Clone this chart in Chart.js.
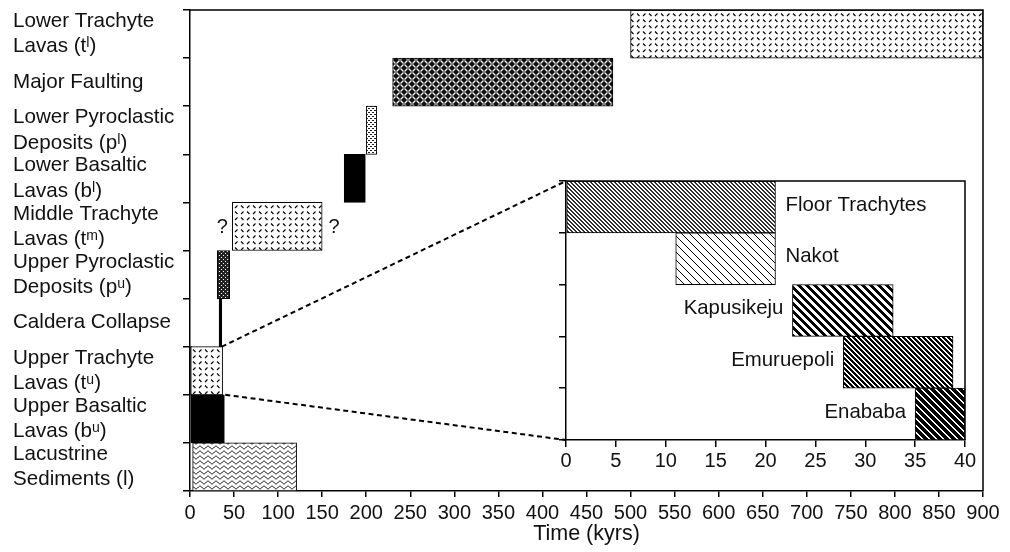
<!DOCTYPE html>
<html><head><meta charset="utf-8">
<script src="https://cdn.jsdelivr.net/npm/chart.js@4/dist/chart.umd.min.js"></script>
<style>
html,body{margin:0;padding:0;background:#fff;}
#wrap{position:relative;width:1010px;height:552px;}
.layer{position:absolute;left:0;top:0;width:1010px;height:552px;}
</style></head><body>
<div id="wrap">
<div class="layer"><canvas id="main"></canvas></div>
<div class="layer"><canvas id="inset"></canvas></div>
</div>
<script>
// ---------- DATA ----------
const categories = [
  ['Lower Trachyte', 'Lavas (tˡ)'],
  'Major Faulting',
  ['Lower Pyroclastic', 'Deposits (pˡ)'],
  ['Lower Basaltic', 'Lavas (bˡ)'],
  ['Middle Trachyte', 'Lavas (tᵐ)'],
  ['Upper Pyroclastic', 'Deposits (pᵘ)'],
  'Caldera Collapse',
  ['Upper Trachyte', 'Lavas (tᵘ)'],
  ['Upper Basaltic', 'Lavas (bᵘ)'],
  ['Lacustrine', 'Sediments (l)']
];
const startKyr = [500, 230, 200, 175, 48, 31, 33, 0, 0, 3];
const endKyr   = [900, 480, 212, 199, 150, 45, 36, 37, 39, 121];
const blackEdgeKyr = [null, null, null, null, null, null, null, [0, 2], null, null];
const uncertainRows = [4];   // rows with "?" on both ends

const insetCategories = ['Floor Trachytes', 'Nakot', 'Kapusikeju', 'Emuruepoli', 'Enababa'];
const insetStartKyr = [0, 11, 22.7, 27.8, 35];
const insetEndKyr   = [21, 21, 32.8, 38.8, 40];

// ---------- STYLES ----------
const mainPatternNames = ['trachyte','weave','stippleLight','solid','trachyte','stippleDark','solid','trachyte','solid','wave'];
const insetPatternNames = ['floor','nakot','kapu','emur','enababa'];
const insetLabelSide = ['right','right','left','left','left'];
const FONT = '"Liberation Sans", Arial, Helvetica, sans-serif';

Chart.defaults.font.family = FONT;
Chart.defaults.font.size = 20;
Chart.defaults.color = '#111';
Chart.defaults.animation = false;

function tile(w, h, fn) {
  const c = document.createElement('canvas'); c.width = w; c.height = h;
  const g = c.getContext('2d'); fn(g, w, h);
  return g.createPattern(c, 'repeat');
}
// crisp pixel "\" hatch: period p, horizontal stroke thickness t
function diag(p, t, fg, bg) {
  return tile(p, p, (g) => {
    g.fillStyle = bg; g.fillRect(0, 0, p, p);
    g.fillStyle = fg;
    for (let r = 0; r < p; r++) for (let k = 0; k < t; k++) g.fillRect((r + k) % p, r, 1, 1);
  });
}
const PAT = {
  solid: '#000',
  trachyte: tile(12, 12, (g) => {
    g.fillStyle = '#fff'; g.fillRect(0, 0, 12, 12);
    g.strokeStyle = '#000'; g.lineWidth = 1.1; g.beginPath();
    g.moveTo(1, 1.5); g.lineTo(3.5, 4);
    g.moveTo(7, 4); g.lineTo(9.5, 1.5);
    g.moveTo(1, 10); g.lineTo(3.5, 7.5);
    g.moveTo(7, 7.5); g.lineTo(9.5, 10);
    g.stroke();
  }),
  weave: tile(8, 8, (g) => {
    g.fillStyle = '#111'; g.fillRect(0, 0, 8, 8);
    g.strokeStyle = '#fff'; g.lineWidth = 1.2; g.beginPath();
    g.moveTo(0.5, 3.5); g.lineTo(3.5, 0.5);
    g.moveTo(4.5, 7.5); g.lineTo(7.5, 4.5);
    g.moveTo(4.5, 0.5); g.lineTo(7.5, 3.5);
    g.moveTo(0.5, 4.5); g.lineTo(3.5, 7.5);
    g.stroke();
  }),
  stippleLight: tile(4, 4, (g) => {
    g.fillStyle = '#fff'; g.fillRect(0, 0, 4, 4);
    g.fillStyle = '#222'; g.fillRect(0, 0, 2, 1); g.fillRect(2, 2, 2, 1);
  }),
  stippleDark: tile(4, 4, (g) => {
    g.fillStyle = '#222'; g.fillRect(0, 0, 4, 4);
    g.fillStyle = '#fff'; g.fillRect(1, 1, 1, 1); g.fillRect(3, 3, 1, 1);
  }),
  wave: tile(8, 5, (g) => {
    g.fillStyle = '#fff'; g.fillRect(0, 0, 8, 5);
    g.strokeStyle = '#000'; g.lineWidth = 1; g.beginPath();
    for (let i = 0; i <= 16; i++) {
      const xx = i / 2, yy = 2.5 - 1.4 * Math.cos(Math.PI * 2 * xx / 8);
      if (i === 0) g.moveTo(xx, yy); else g.lineTo(xx, yy);
    }
    g.stroke();
  }),
  floor: diag(4, 2, '#333', '#fff'),
  nakot: diag(8, 1, '#000', '#fff'),
  kapu: diag(8, 4, '#000', '#fff'),
  emur: diag(5, 3, '#000', '#fff'),
  enababa: diag(7, 2, '#fff', '#000')
};

// ---------- MAIN CHART ----------
const mainDecor = {
  id: 'mainDecor',
  afterDraw(chart) {
    const { ctx, chartArea: a, scales: { x, y } } = chart;
    ctx.save();
    ctx.strokeStyle = '#000'; ctx.lineWidth = 1.5;
    ctx.beginPath(); ctx.moveTo(a.left, a.top); ctx.lineTo(a.right, a.top); ctx.lineTo(a.right, a.bottom); ctx.stroke();
    ctx.fillStyle = '#111'; ctx.font = '20px ' + FONT;
    ctx.textBaseline = 'middle'; ctx.textAlign = 'center';
    for (const r of uncertainRows) {
      const yc = y.getPixelForValue(r) + 1;
      ctx.fillText('?', x.getPixelForValue(startKyr[r]) - 10, yc);
      ctx.fillText('?', x.getPixelForValue(endKyr[r]) + 12, yc);
    }
    ctx.restore();
  }
};

const mainChart = new Chart(document.getElementById('main'), {
  type: 'bar',
  data: {
    labels: categories,
    datasets: [
      {
        data: categories.map((_, i) => [startKyr[i], endKyr[i]]),
        backgroundColor: mainPatternNames.map(n => PAT[n]),
        borderColor: '#000', borderWidth: 1, borderSkipped: false,
        grouped: false, categoryPercentage: 1, barPercentage: 1
      },
      {
        data: blackEdgeKyr,
        backgroundColor: '#000', borderColor: '#000', borderWidth: 0, borderSkipped: false,
        grouped: false, categoryPercentage: 1, barPercentage: 1
      }
    ]
  },
  options: {
    indexAxis: 'y', responsive: true, maintainAspectRatio: false,
    layout: { padding: { left: 13, top: 10, right: 27, bottom: 0 } },
    plugins: { legend: { display: false }, tooltip: { enabled: false } },
    scales: {
      x: {
        type: 'linear', min: 0, max: 900,
        ticks: { stepSize: 50, autoSkip: false, maxRotation: 0, padding: 4, color: '#111', font: { size: 20 } },
        grid: { drawOnChartArea: false, tickLength: 6, color: '#000', lineWidth: 1.5 },
        border: { display: true, color: '#000', width: 1.5 },
        title: { display: true, text: 'Time (kyrs)', color: '#111', font: { size: 21.5 }, padding: { top: 0, bottom: 5 } },
        afterFit(ax) { ax.height = 61; ax.paddingLeft = 0; ax.paddingRight = 0; }
      },
      y: {
        type: 'category',
        ticks: { crossAlign: 'far', color: '#111', font: { size: 20.6, lineHeight: 1.22 }, autoSkip: false },
        grid: { offset: true, drawOnChartArea: false, tickLength: 7, color: '#000', lineWidth: 1.5 },
        border: { display: true, color: '#000', width: 1.5 },
        afterFit(ax) { ax.width = 177; ax.paddingTop = 0; ax.paddingBottom = 0; }
      }
    }
  },
  plugins: [mainDecor]
});

// ---------- INSET CHART ----------
const insetDecor = {
  id: 'insetDecor',
  afterDraw(chart) {
    const { ctx, chartArea: a, scales: { x, y } } = chart;
    ctx.save();
    ctx.strokeStyle = '#000'; ctx.lineWidth = 1.5;
    ctx.beginPath(); ctx.moveTo(a.left, a.top); ctx.lineTo(a.right, a.top); ctx.lineTo(a.right, a.bottom); ctx.stroke();
    ctx.fillStyle = '#111'; ctx.font = '20.4px ' + FONT;
    ctx.textBaseline = 'middle';
    insetCategories.forEach((name, i) => {
      const yc = y.getPixelForValue(i) - 2;
      if (insetLabelSide[i] === 'right') {
        ctx.textAlign = 'left';
        ctx.fillText(name, x.getPixelForValue(insetEndKyr[i]) + 10, yc);
      } else {
        ctx.textAlign = 'right';
        ctx.fillText(name, x.getPixelForValue(insetStartKyr[i]) - 9, yc);
      }
    });
    // dashed connectors from the main chart's 0–40 kyr window
    const mx = mainChart.scales.x, my = mainChart.scales.y;
    const b67 = (my.getPixelForValue(6) + my.getPixelForValue(7)) / 2;
    const b78 = (my.getPixelForValue(7) + my.getPixelForValue(8)) / 2;
    ctx.setLineDash([5, 3.5]); ctx.lineWidth = 2;
    ctx.beginPath();
    ctx.moveTo(mx.getPixelForValue(36), b67); ctx.lineTo(a.left, a.top);
    ctx.moveTo(mx.getPixelForValue(40), b78); ctx.lineTo(a.left, a.bottom);
    ctx.stroke();
    ctx.restore();
  }
};

new Chart(document.getElementById('inset'), {
  type: 'bar',
  data: {
    labels: insetCategories,
    datasets: [{
      data: insetCategories.map((_, i) => [insetStartKyr[i], insetEndKyr[i]]),
      backgroundColor: insetPatternNames.map(n => PAT[n]),
      borderColor: '#000', borderWidth: 1, borderSkipped: false,
      categoryPercentage: 1, barPercentage: 1
    }]
  },
  options: {
    indexAxis: 'y', responsive: true, maintainAspectRatio: false,
    layout: { padding: { left: 545, top: 181, right: 45, bottom: 72 } },
    plugins: { legend: { display: false }, tooltip: { enabled: false } },
    scales: {
      x: {
        type: 'linear', min: 0, max: 40,
        ticks: { stepSize: 5, autoSkip: false, maxRotation: 0, padding: 2, color: '#111', font: { size: 20 } },
        grid: { drawOnChartArea: false, tickLength: 7, color: '#000', lineWidth: 1.5 },
        border: { display: true, color: '#000', width: 1.5 },
        afterFit(ax) { ax.height = 40; ax.paddingLeft = 0; ax.paddingRight = 0; }
      },
      y: {
        type: 'category',
        ticks: { display: false },
        grid: { offset: true, drawOnChartArea: false, tickLength: 7, color: '#000', lineWidth: 1.5 },
        border: { display: true, color: '#000', width: 1.5 },
        afterFit(ax) { ax.width = 21; ax.paddingTop = 0; ax.paddingBottom = 0; }
      }
    }
  },
  plugins: [insetDecor]
});
</script>
</body></html>
